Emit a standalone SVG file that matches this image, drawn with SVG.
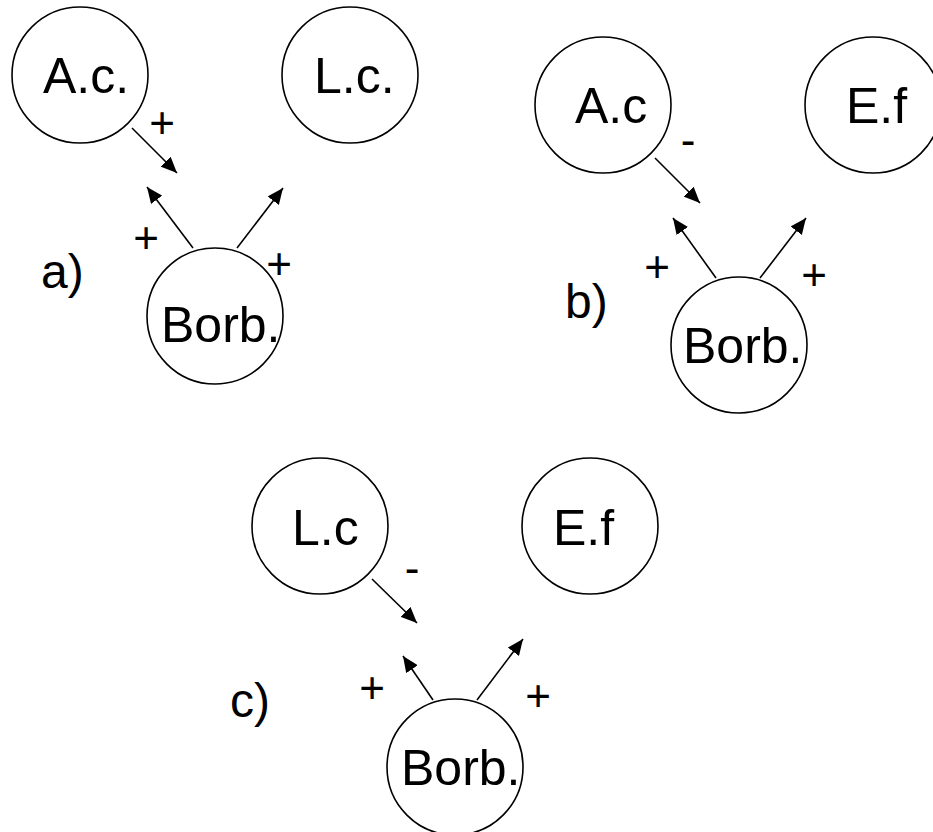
<svg xmlns="http://www.w3.org/2000/svg" width="933" height="832" viewBox="0 0 933 832">
<style>
.n{fill:#fff;stroke:#000;stroke-width:1.6}
.t{font-family:"Liberation Sans",Arial,sans-serif;font-size:50px;fill:#000}
.s{font-family:"Liberation Sans",Arial,sans-serif;font-size:44px;fill:#000;text-anchor:middle}
.p{font-family:"Liberation Sans",Arial,sans-serif;font-size:48px;fill:#000}
.e{stroke:#000;stroke-width:1.6;fill:none;marker-end:url(#ah)}
</style>
<defs>
<marker id="ah" markerUnits="userSpaceOnUse" markerWidth="18" markerHeight="14" refX="16" refY="7" orient="auto">
<path d="M0,0 L16,7 L0,14 z" fill="#000"/>
</marker>
</defs>
<rect width="933" height="832" fill="#fff"/>
<g id="connectors">
<line class="e" x1="132" y1="128" x2="177" y2="173"/>
<line class="e" x1="193" y1="248" x2="147" y2="187"/>
<line class="e" x1="237" y1="248" x2="283" y2="188"/>
<line class="e" x1="655" y1="158" x2="700" y2="203"/>
<line class="e" x1="716" y1="278" x2="673" y2="218"/>
<line class="e" x1="760" y1="278" x2="806" y2="218"/>
<line class="e" x1="372" y1="579" x2="417" y2="623"/>
<line class="e" x1="433" y1="700" x2="403" y2="656"/>
<line class="e" x1="477" y1="700" x2="523" y2="639"/>
</g>
<g id="a-Ac"><circle class="n" cx="80" cy="75" r="68"/><text class="t" x="43" y="93">A.c.</text></g>
<g id="a-Lc"><circle class="n" cx="350" cy="75" r="68"/><text class="t" x="314" y="93">L.c.</text></g>
<g id="a-Borb"><circle class="n" cx="215" cy="316" r="68"/><text class="t" x="161" y="342">Borb.</text></g>
<g id="b-Ac"><circle class="n" cx="603" cy="105" r="68"/><text class="t" x="575" y="123">A.c</text></g>
<g id="b-Ef"><circle class="n" cx="873" cy="105" r="68"/><text class="t" x="846" y="123">E.f</text></g>
<g id="b-Borb"><circle class="n" cx="739" cy="345" r="68"/><text class="t" x="683" y="363">Borb.</text></g>
<g id="c-Lc"><circle class="n" cx="320" cy="526" r="68"/><text class="t" x="292" y="545">L.c</text></g>
<g id="c-Ef"><circle class="n" cx="590" cy="526" r="68"/><text class="t" x="553" y="545">E.f</text></g>
<g id="c-Borb"><circle class="n" cx="455" cy="767" r="68"/><text class="t" x="401" y="785">Borb.</text></g>
<g id="labels">
<text class="s" x="162" y="138">+</text>
<text class="s" x="146" y="253">+</text>
<text class="s" x="279" y="279">+</text>
<text class="s" x="688" y="155">-</text>
<text class="s" x="657" y="282">+</text>
<text class="s" x="814" y="290">+</text>
<text class="s" x="412" y="583">-</text>
<text class="s" x="372" y="703">+</text>
<text class="s" x="538" y="711">+</text>
<text class="p" x="41" y="288">a)</text>
<text class="p" x="565" y="318">b)</text>
<text class="p" x="230" y="717">c)</text>
</g>
</svg>
